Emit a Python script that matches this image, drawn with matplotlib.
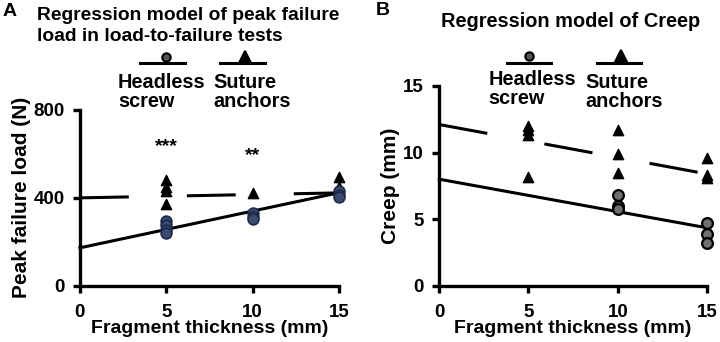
import numpy as np
import matplotlib.pyplot as plt

plt.rcParams["font.family"] = ["Liberation Sans", "DejaVu Sans"]
plt.rcParams["font.weight"] = "bold"

# Panel A: peak failure load (N)
a_screw_x = [5, 5, 5, 5, 10, 10, 10, 15, 15, 15]
a_screw_y = [295, 275, 255, 240, 330, 315, 305, 430, 415, 405]
a_anchor_x = [5, 5, 5, 5, 10, 15, 15]
a_anchor_y = [480, 450, 430, 370, 423, 495, 450]
a_screw_fit = (173, 16.7)
a_anchor_fit = (400, 1.5)
a_stars_x = [5, 10]
a_stars_y = [635, 590]
a_stars = ["***", "**"]

# Panel B: creep (mm)
b_screw_x = [10, 10, 10, 15, 15, 15]
b_screw_y = [6.8, 6.0, 5.8, 4.7, 3.9, 3.2]
b_anchor_x = [5, 5, 5, 5, 10, 10, 10, 15, 15, 15]
b_anchor_y = [12.0, 11.7, 11.3, 8.2, 11.7, 9.9, 8.5, 9.6, 8.3, 8.1]
b_screw_fit = (8.0, -0.243)
b_anchor_fit = (12.1, -0.247)

xticks = [0, 5, 10, 15]

DASH = (0, (16, 19))


def style_axes(ax, yticks, ylabel):
    for s in ["top", "right"]:
        ax.spines[s].set_visible(False)
    for s in ["left", "bottom"]:
        ax.spines[s].set_linewidth(2.4)
    ax.set_xlim(0, 15)
    ax.set_ylim(yticks[0], yticks[-1])
    ax.set_xticks(xticks)
    ax.set_yticks(yticks)
    ax.tick_params(width=2.4, length=5, labelsize=13.5)
    ax.tick_params(axis="x", pad=8)
    ax.tick_params(axis="y", pad=6)
    ax.set_xlabel("Fragment thickness (mm)", fontsize=14, fontweight="bold", labelpad=-1)
    ax.set_ylabel(ylabel, fontsize=15, fontweight="bold", labelpad=2)


def draw_fit(ax, fit, ls):
    xs = np.array([0, 15])
    ax.plot(xs, fit[0] + fit[1] * xs, color="black", lw=2.2, linestyle=ls,
            clip_on=False, zorder=2)


def draw_key(ax, cx, ly, x0, x1, marker, ms, mfc, tx, ty, text):
    t = ax.transAxes
    ax.plot([x0, x1], [ly, ly], color="black", lw=2.2, transform=t, clip_on=False)
    ax.plot([cx], [ly + 0.035], marker=marker, ms=ms, mfc=mfc, mec="black", mew=1.5,
            transform=t, clip_on=False, linestyle="none")
    ax.text(tx, ty, text, transform=t, ha="left", va="center", fontsize=14.3,
            fontweight="bold", linespacing=1.0)


fig = plt.figure(figsize=(7.2, 3.42), dpi=100)
ax1 = fig.add_axes([0.111, 0.164, 0.36, 0.515])
ax2 = fig.add_axes([0.61, 0.164, 0.372, 0.585])

# A
draw_fit(ax1, a_anchor_fit, DASH)
draw_fit(ax1, a_screw_fit, "-")
ax1.scatter(a_anchor_x, a_anchor_y, marker="^", s=55, c="black", zorder=3, clip_on=False)
ax1.scatter(a_screw_x, a_screw_y, marker="o", s=60, c="#3b4a72", edgecolors="#1e2a4a",
            linewidths=1.2, zorder=3, clip_on=False)
for x, y, s in zip(a_stars_x, a_stars_y, a_stars):
    ax1.text(x, y, s, ha="center", va="center", fontsize=14, fontweight="bold")
style_axes(ax1, [0, 400, 800], "Peak failure load (N)")
draw_key(ax1, 0.332, 1.267, 0.232, 0.405, "o", 6, "#555555", 0.147, 1.10, "Headless\nscrew")
draw_key(ax1, 0.637, 1.267, 0.54, 0.714, "^", 9, "black", 0.514, 1.10, "Suture\nanchors")

# B
draw_fit(ax2, b_anchor_fit, DASH)
draw_fit(ax2, b_screw_fit, "-")
ax2.scatter(b_anchor_x, b_anchor_y, marker="^", s=55, c="black", zorder=3, clip_on=False)
ax2.scatter(b_screw_x, b_screw_y, marker="o", s=60, c="#707070", edgecolors="black",
            linewidths=1.6, zorder=3, clip_on=False)
style_axes(ax2, [0, 5, 10, 15], "Creep (mm)")
draw_key(ax2, 0.336, 1.115, 0.254, 0.418, "o", 6, "#555555", 0.183, 0.985, "Headless\nscrew")
draw_key(ax2, 0.679, 1.115, 0.59, 0.754, "^", 9, "black", 0.545, 0.97, "Suture\nanchors")

fig.text(0.051, 0.98, "Regression model of peak failure\nload in load-to-failure tests",
         ha="left", va="top", fontsize=13.9, fontweight="bold", linespacing=1.3)
fig.text(0.6125, 0.965, "Regression model of Creep", ha="left", va="top",
         fontsize=14.4, fontweight="bold")
fig.text(0.004, 0.99, "A", ha="left", va="top", fontsize=14, fontweight="bold")
fig.text(0.522, 0.995, "B", ha="left", va="top", fontsize=14, fontweight="bold")

fig.savefig("out.png", dpi=100)
